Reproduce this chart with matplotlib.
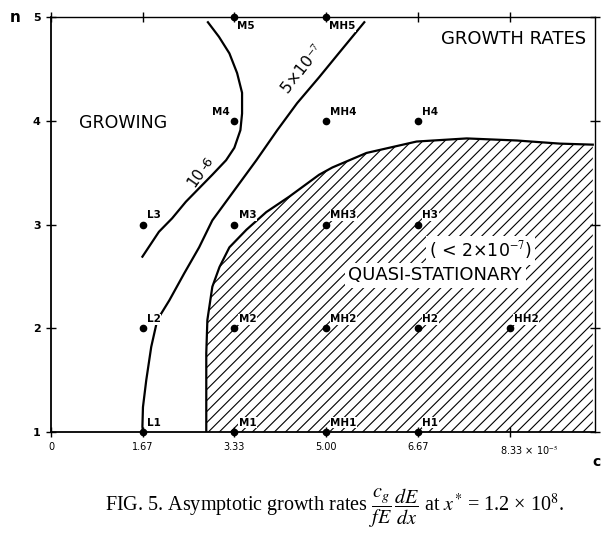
import numpy as np
import matplotlib
matplotlib.use('Agg')
import matplotlib.pyplot as plt
from matplotlib.patches import Polygon

plt.rcParams['font.family'] = 'DejaVu Sans'
plt.rcParams['mathtext.fontset'] = 'stix'

# grid points (c in units of 1e-5, n)
pt_names = ['L1', 'L2', 'L3', 'M1', 'M2', 'M3', 'M4', 'M5',
            'MH1', 'MH2', 'MH3', 'MH4', 'MH5', 'H1', 'H2', 'H3', 'H4', 'HH2']
pt_c = [1.67, 1.67, 1.67, 3.33, 3.33, 3.33, 3.33, 3.33,
        5.00, 5.00, 5.00, 5.00, 5.00, 6.67, 6.67, 6.67, 6.67, 8.33]
pt_n = [1, 2, 3, 1, 2, 3, 4, 5, 1, 2, 3, 4, 5, 1, 2, 3, 4, 2]

# contour 1e-6
c6_c = [2.85, 3.05, 3.24, 3.38, 3.47, 3.47, 3.44, 3.33, 3.18, 2.93, 2.69, 2.45, 2.20, 1.96, 1.66]
c6_n = [4.95, 4.81, 4.65, 4.46, 4.27, 4.07, 3.91, 3.74, 3.62, 3.48, 3.35, 3.22, 3.06, 2.93, 2.69]

# contour 5e-7
c7_c = [5.69, 5.24, 4.87, 4.47, 4.11, 3.73, 3.33, 2.93, 2.69, 2.42, 2.15, 1.93, 1.82, 1.73, 1.67, 1.66, 1.67]
c7_n = [4.95, 4.66, 4.42, 4.17, 3.91, 3.62, 3.33, 3.04, 2.78, 2.53, 2.27, 2.08, 1.82, 1.50, 1.24, 1.05, 1.00]

# quasi-stationary boundary (< 2e-7)
qs_c = [2.82, 2.82, 2.82, 2.84, 2.93, 3.06, 3.24, 3.55, 3.91, 4.33, 4.87, 5.11, 5.73, 6.64, 7.55, 8.46, 9.24, 9.84]
qs_n = [1.00, 1.50, 1.76, 2.08, 2.40, 2.59, 2.78, 2.95, 3.12, 3.27, 3.48, 3.55, 3.69, 3.80, 3.83, 3.81, 3.78, 3.77]

xticks = [0, 1.67, 3.33, 5.00, 6.67, 8.33]
xticklabels = ['0', '1.67', '3.33', '5.00', '6.67', '']
yticks = [1, 2, 3, 4, 5]

fig = plt.figure(figsize=(6.03, 5.33), dpi=100)
ax = fig.add_axes([0.0846, 0.1895, 0.9021, 0.7785])
ax.set_xlim(0, 9.88)
ax.set_ylim(1, 5)

for s in ax.spines.values():
    s.set_linewidth(1.3)
ax.spines['top'].set_linewidth(1.0)
ax.spines['right'].set_linewidth(1.0)

ax.set_xticks(xticks)
ax.set_xticklabels(xticklabels, fontsize=7)
ax.set_yticks(yticks)
ax.set_yticklabels([str(v) for v in yticks], fontsize=8, fontweight='bold')
ax.tick_params(direction='inout', length=7, width=1.0, pad=4,
               top=True, right=True)
ax.annotate('8.33 \u00d7 10$^{-5}$', xy=(8.33, 0), xycoords=('data', 'axes fraction'),
            xytext=(-7, -8), textcoords='offset points', ha='left', va='top', fontsize=7)
fig.text(0.025, 0.968, 'n', fontsize=11, fontweight='bold', va='center', ha='center')
fig.text(0.99, 0.133, 'c', fontsize=10, fontweight='bold', va='center', ha='center')

# hatched region
poly_xy = np.column_stack([qs_c + [qs_c[-1]], qs_n + [1.0]])
region = Polygon(poly_xy, closed=True, facecolor='none', edgecolor='none')
ax.add_patch(region)
W, H = 543.0, 415.0
step = 11.0 / W
for u in np.arange(-H / W, 1.0 + step, step):
    ln, = ax.plot([u, u + H / W], [0, 1], transform=ax.transAxes, color='black', lw=0.8)
    ln.set_clip_path(region)
ax.plot(qs_c, qs_n, color='black', lw=1.6)

ax.plot(c6_c, c6_n, color='black', lw=1.6)
ax.plot(c7_c, c7_n, color='black', lw=1.6)

ax.plot(pt_c, pt_n, 'o', color='black', ms=4.5, clip_on=False, zorder=5)
for name, c, n in zip(pt_names, pt_c, pt_n):
    off, ha, va = (3, 3), 'left', 'bottom'
    if n == 5:
        off, va = (2, -3), 'top'
    if name == 'M4':
        off, ha = (-3, 3), 'right'
    ax.annotate(name, xy=(c, n), xytext=off, textcoords='offset points',
                ha=ha, va=va, fontsize=7.5, fontweight='bold', zorder=6,
                bbox=dict(facecolor='white', edgecolor='none', pad=0.3))

# contour labels
ax.text(2.64, 3.45, '10', rotation=55, fontsize=11, ha='center', va='center',
        rotation_mode='anchor')
ax.annotate('-6', xy=(2.64, 3.45), xytext=(7.5, 10.5), textcoords='offset points',
            rotation=55, fontsize=9.5, ha='center', va='center', rotation_mode='anchor')
ax.text(4.57, 4.50, '5\u00d710$^{-7}$', rotation=52, fontsize=11.5, ha='center', va='center')

txt_box = dict(facecolor='white', edgecolor='none', pad=2.5)
ax.text(8.40, 4.79, 'GROWTH RATES', fontsize=13, ha='center', va='center')
ax.text(1.31, 3.98, 'GROWING', fontsize=12.5, ha='center', va='center')
ax.text(7.80, 2.75, '( < 2\u00d710$^{-7}$)', fontsize=12.5, ha='center', va='center',
        bbox=txt_box, zorder=4)
ax.text(6.98, 2.51, 'QUASI-STATIONARY', fontsize=13, ha='center', va='center',
        bbox=txt_box, zorder=4)

fig.text(0.555, 0.046,
         'FIG. 5. Asymptotic growth rates $\\dfrac{c_g}{fE}\\,\\dfrac{dE}{dx}$ at $x^{*}$ = 1.2 \u00d7 10$^{8}$.',
         fontsize=14.5, family='Liberation Serif', ha='center', va='center')

fig.savefig('out.png', dpi=100)
